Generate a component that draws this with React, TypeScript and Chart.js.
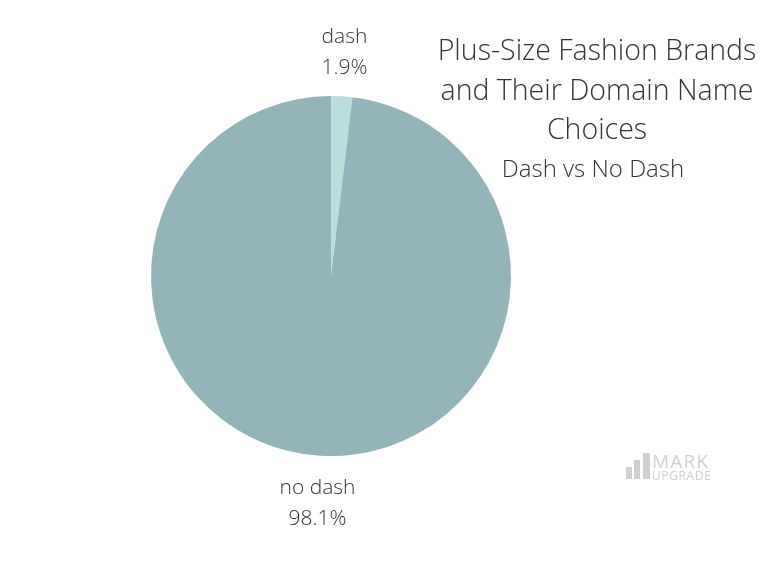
import React, { useEffect, useRef } from "react";
import { Chart, registerables } from "chart.js";

Chart.register(...registerables);

const categories = ["dash", "no dash"];
const shares = [1.9, 98.1];
const sliceColors = ["#b9dedb", "#93b5b9"];
const titleLines = ["Plus-Size Fashion Brands", "and Their Domain Name", "Choices"];
const subtitle = "Dash vs No Dash";
const watermark = ["MARK", "UPGRADE"];

const FONT = "'Open Sans', sans-serif";
const TEXT = "#333333";

const overlay = {
  id: "overlay",
  afterDraw(chart: any) {
    const ctx = chart.ctx;
    const meta = chart.getDatasetMeta(0);
    ctx.save();
    ctx.fillStyle = TEXT;
    ctx.textAlign = "center";
    ctx.textBaseline = "middle";
    ctx.font = `300 21px ${FONT}`;
    meta.data.forEach((arc: any, i: number) => {
      const p = arc.getProps(["x", "y", "startAngle", "endAngle", "outerRadius"], true);
      const mid = (p.startAngle + p.endAngle) / 2;
      const r = p.outerRadius + 46;
      const cx = p.x + Math.cos(mid) * r;
      const cy = p.y + Math.sin(mid) * r + 2;
      ctx.fillText(categories[i], cx, cy - 15.5);
      ctx.fillText(shares[i].toFixed(1) + "%", cx, cy + 15.5);
    });
    // title
    ctx.font = `300 28.5px ${FONT}`;
    titleLines.forEach((t, i) => ctx.fillText(t, 597, 52 + i * 39.5));
    ctx.font = `300 24px ${FONT}`;
    ctx.fillText(subtitle, 593, 170);
    // watermark
    ctx.fillStyle = "#d0d0d0";
    ctx.fillRect(626, 467, 6, 12);
    ctx.fillRect(634, 460, 6, 19);
    ctx.fillRect(643, 453, 7, 26);
    ctx.textAlign = "left";
    ctx.textBaseline = "alphabetic";
    (ctx as any).letterSpacing = "1.2px";
    ctx.font = `500 19px ${FONT}`;
    ctx.fillText(watermark[0], 652, 468);
    (ctx as any).letterSpacing = "0.6px";
    ctx.font = `500 12px ${FONT}`;
    ctx.fillText(watermark[1], 652, 480);
    ctx.restore();
  },
};

export default function App() {
  const ref = useRef<HTMLCanvasElement | null>(null);
  useEffect(() => {
    if (!ref.current) return;
    const chart = new Chart(ref.current, {
      type: "pie",
      data: {
        labels: categories,
        datasets: [
          {
            data: shares,
            backgroundColor: sliceColors,
            borderWidth: 0,
          },
        ],
      },
      options: {
        animation: false,
        responsive: false,
        layout: { padding: { left: 151, right: 257, top: 96, bottom: 113 } },
        plugins: {
          legend: { display: false },
          tooltip: { enabled: false },
          title: { display: false },
        },
      },
      plugins: [overlay],
    });
    return () => chart.destroy();
  }, []);
  return (
    <div style={{ position: "absolute", left: 0, top: 0, width: 768, height: 569, background: "#fff" }}>
      <canvas ref={ref} width={768} height={569} style={{ width: 768, height: 569 }} />
    </div>
  );
}
